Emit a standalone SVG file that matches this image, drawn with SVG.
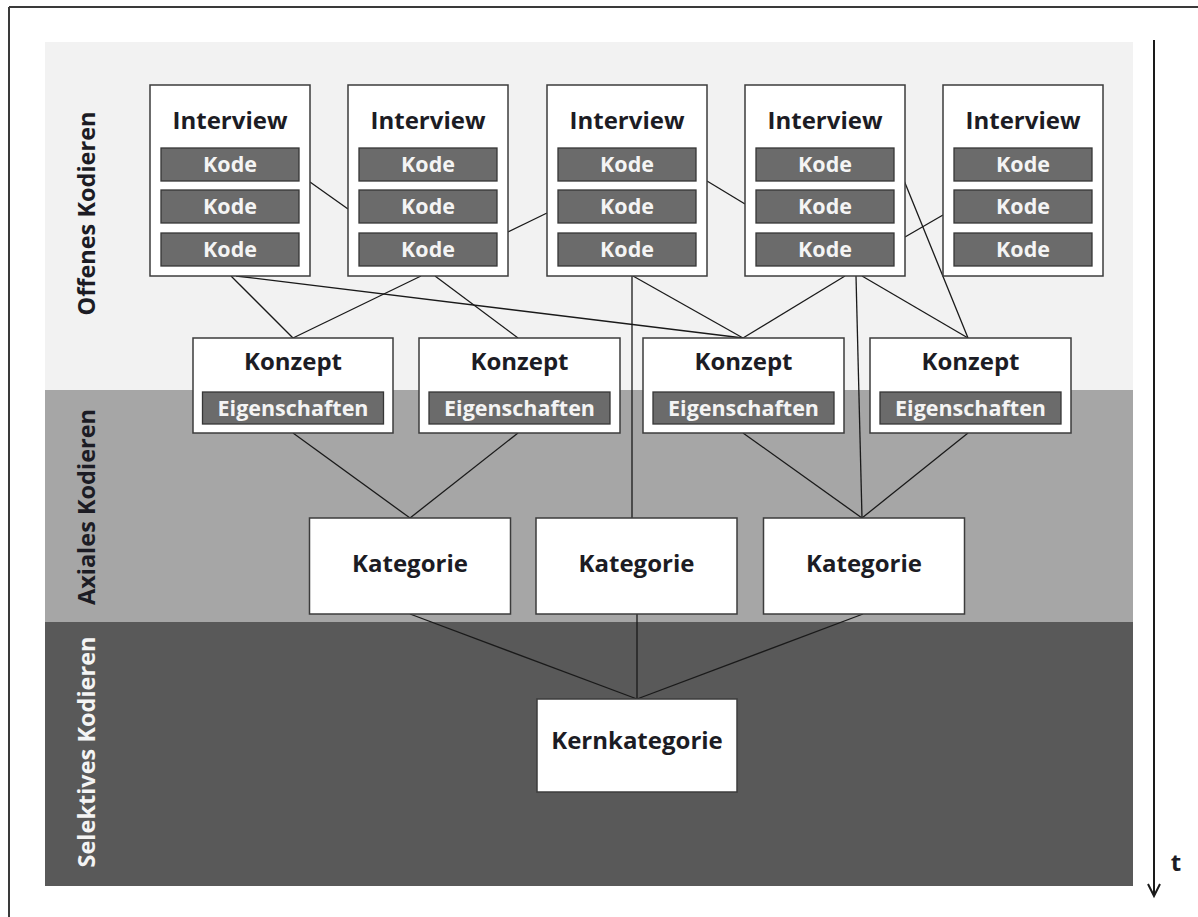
<svg xmlns="http://www.w3.org/2000/svg" width="1198" height="917" viewBox="0 0 1198 917">
<style>
.box{fill:#ffffff;stroke:#3c3c3c;stroke-width:1.5}
.kode{fill:#6b6b6b;stroke:#363636;stroke-width:1.3}
.t{font-family:"Open Sans","Liberation Sans",sans-serif;font-weight:bold;text-anchor:middle}
.dark{fill:#1c1c24}
.light{fill:#f4f4f4}
.h1{font-size:24px}
.h2{font-size:21.5px}
.side{font-size:23.5px}
.conn line{stroke:#1a1a1a;stroke-width:1.3}
</style>
<rect width="1198" height="917" fill="#ffffff"/>
<g id="frame" stroke="#3a3a3a" stroke-width="2" fill="none">
<line x1="9" y1="7" x2="1198" y2="7"/>
<line x1="9" y1="7" x2="9" y2="917"/>
</g>
<g id="bands">
<rect x="45" y="42" width="1088" height="348" fill="#f2f2f2"/>
<rect x="45" y="390" width="1088" height="232" fill="#a6a6a6"/>
<rect x="45" y="622" width="1088" height="264" fill="#595959"/>
<text class="t side dark" transform="translate(95,213.5) rotate(-90)">Offenes Kodieren</text>
<text class="t side dark" transform="translate(95,507) rotate(-90)">Axiales Kodieren</text>
<text class="t side light" transform="translate(95,752) rotate(-90)">Selektives Kodieren</text>
</g>
<g id="timeaxis" stroke="#1a1a1a" stroke-width="2" fill="none">
<line x1="1154" y1="40" x2="1154" y2="896"/>
<polyline points="1148,884 1154,896 1160,884"/>
</g>
<text class="t dark" x="1176" y="871" font-size="24">t</text>
<g class="conn" id="connectors">
<line x1="310" y1="182" x2="348" y2="209"/>
<line x1="508" y1="232" x2="547" y2="213"/>
<line x1="707" y1="181" x2="745" y2="204"/>
<line x1="905" y1="237" x2="943" y2="215"/>
<line x1="903" y1="178" x2="968" y2="338"/>
<line x1="231" y1="276" x2="293" y2="338"/>
<line x1="236" y1="276" x2="743" y2="338"/>
<line x1="421" y1="276" x2="293" y2="338"/>
<line x1="435" y1="276" x2="518" y2="338"/>
<line x1="632" y1="276" x2="632" y2="518"/>
<line x1="633" y1="276" x2="743" y2="338"/>
<line x1="845" y1="276" x2="743" y2="338"/>
<line x1="856" y1="276" x2="862" y2="518"/>
<line x1="862" y1="276" x2="968" y2="338"/>
<line x1="293" y1="433" x2="410" y2="518"/>
<line x1="518" y1="433" x2="410" y2="518"/>
<line x1="743" y1="433" x2="862" y2="518"/>
<line x1="968" y1="433" x2="862" y2="518"/>
<line x1="410" y1="614" x2="637" y2="699"/>
<line x1="637" y1="614" x2="637" y2="699"/>
<line x1="863" y1="614" x2="637" y2="699"/>
</g>
<g id="interview1">
<rect class="box" x="150" y="85" width="160" height="191"/>
<text class="t h1 dark" x="230" y="129">Interview</text>
<rect class="kode" x="161" y="148" width="138" height="33"/><text class="t h2 light" x="230" y="172">Kode</text>
<rect class="kode" x="161" y="190" width="138" height="33"/><text class="t h2 light" x="230" y="214">Kode</text>
<rect class="kode" x="161" y="233" width="138" height="33"/><text class="t h2 light" x="230" y="257">Kode</text>
</g>
<g id="interview2">
<rect class="box" x="348" y="85" width="160" height="191"/>
<text class="t h1 dark" x="428" y="129">Interview</text>
<rect class="kode" x="359" y="148" width="138" height="33"/><text class="t h2 light" x="428" y="172">Kode</text>
<rect class="kode" x="359" y="190" width="138" height="33"/><text class="t h2 light" x="428" y="214">Kode</text>
<rect class="kode" x="359" y="233" width="138" height="33"/><text class="t h2 light" x="428" y="257">Kode</text>
</g>
<g id="interview3">
<rect class="box" x="547" y="85" width="160" height="191"/>
<text class="t h1 dark" x="627" y="129">Interview</text>
<rect class="kode" x="558" y="148" width="138" height="33"/><text class="t h2 light" x="627" y="172">Kode</text>
<rect class="kode" x="558" y="190" width="138" height="33"/><text class="t h2 light" x="627" y="214">Kode</text>
<rect class="kode" x="558" y="233" width="138" height="33"/><text class="t h2 light" x="627" y="257">Kode</text>
</g>
<g id="interview4">
<rect class="box" x="745" y="85" width="160" height="191"/>
<text class="t h1 dark" x="825" y="129">Interview</text>
<rect class="kode" x="756" y="148" width="138" height="33"/><text class="t h2 light" x="825" y="172">Kode</text>
<rect class="kode" x="756" y="190" width="138" height="33"/><text class="t h2 light" x="825" y="214">Kode</text>
<rect class="kode" x="756" y="233" width="138" height="33"/><text class="t h2 light" x="825" y="257">Kode</text>
</g>
<g id="interview5">
<rect class="box" x="943" y="85" width="160" height="191"/>
<text class="t h1 dark" x="1023" y="129">Interview</text>
<rect class="kode" x="954" y="148" width="138" height="33"/><text class="t h2 light" x="1023" y="172">Kode</text>
<rect class="kode" x="954" y="190" width="138" height="33"/><text class="t h2 light" x="1023" y="214">Kode</text>
<rect class="kode" x="954" y="233" width="138" height="33"/><text class="t h2 light" x="1023" y="257">Kode</text>
</g>
<g id="konzept1">
<rect class="box" x="193" y="338" width="200" height="95"/>
<text class="t h1 dark" x="293" y="370">Konzept</text>
<rect class="kode" x="202.5" y="392" width="181" height="32"/><text class="t h2 light" x="293" y="416">Eigenschaften</text>
</g>
<g id="konzept2">
<rect class="box" x="419" y="338" width="201" height="95"/>
<text class="t h1 dark" x="519.5" y="370">Konzept</text>
<rect class="kode" x="429" y="392" width="181" height="32"/><text class="t h2 light" x="519.5" y="416">Eigenschaften</text>
</g>
<g id="konzept3">
<rect class="box" x="643" y="338" width="201" height="95"/>
<text class="t h1 dark" x="743.5" y="370">Konzept</text>
<rect class="kode" x="653" y="392" width="181" height="32"/><text class="t h2 light" x="743.5" y="416">Eigenschaften</text>
</g>
<g id="konzept4">
<rect class="box" x="870" y="338" width="201" height="95"/>
<text class="t h1 dark" x="970.5" y="370">Konzept</text>
<rect class="kode" x="880" y="392" width="181" height="32"/><text class="t h2 light" x="970.5" y="416">Eigenschaften</text>
</g>
<g id="kategorie1">
<rect class="box" x="309.5" y="518" width="201" height="96"/>
<text class="t h1 dark" x="410" y="572">Kategorie</text>
</g>
<g id="kategorie2">
<rect class="box" x="536" y="518" width="201" height="96"/>
<text class="t h1 dark" x="636.5" y="572">Kategorie</text>
</g>
<g id="kategorie3">
<rect class="box" x="763.5" y="518" width="201" height="96"/>
<text class="t h1 dark" x="864" y="572">Kategorie</text>
</g>
<g id="kernkategorie">
<rect class="box" x="537" y="699" width="200" height="93"/>
<text class="t h1 dark" x="637" y="749">Kernkategorie</text>
</g>
</svg>
